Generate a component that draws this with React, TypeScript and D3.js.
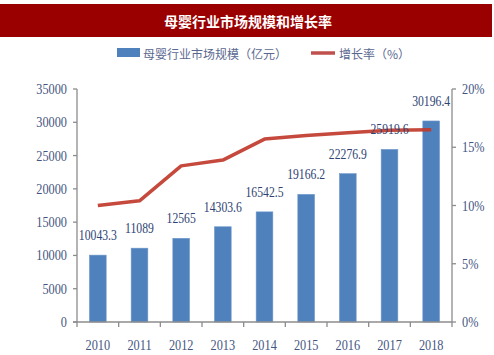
import React from "react";
import * as d3 from "d3";

const years = ["2010", "2011", "2012", "2013", "2014", "2015", "2016", "2017", "2018"];
const marketSize = [10043.3, 11089, 12565, 14303.6, 16542.5, 19166.2, 22276.9, 25919.6, 30196.4];
const marketLabels = ["10043.3", "11089", "12565", "14303.6", "16542.5", "19166.2", "22276.9", "25919.6", "30196.4"];
const growthRate = [10.0, 10.4, 13.4, 13.9, 15.7, 16.0, 16.25, 16.45, 16.5];
const leftTicks = [0, 5000, 10000, 15000, 20000, 25000, 30000, 35000];
const rightTicks = [0, 5, 10, 15, 20];

const title = "母婴行业市场规模和增长率";
const legendBar = "母婴行业市场规模（亿元）";
const legendLine = "增长率（%）";

const W = 494;
const H = 355;
const left = 77;
const right = 452;
const top = 89;
const bottom = 322;

const numFont = "'Liberation Serif', 'Times New Roman', serif";
const cjkFont = "'Noto Sans CJK SC', sans-serif";
const SX = 0.78;

export default function App() {
  const x = d3.scaleBand<string>().domain(years).range([left, right]).paddingInner(0.6).paddingOuter(0.3);
  const yL = d3.scaleLinear().domain([0, 35000]).range([bottom, top]);
  const yR = d3.scaleLinear().domain([0, 20]).range([bottom, top]);
  const step = x.step();
  const cx = (y: string) => (x(y) as number) + x.bandwidth() / 2;

  const line = d3
    .line<number>()
    .x((_, i) => cx(years[i]))
    .y((d) => yR(d));

  const axisColor = "#8C8C8C";
  const tickColor = "#44557F";
  const labelColor = "#2E4373";

  return (
    <svg width={W} height={H} style={{ position: "absolute", left: 0, top: 0, background: "#fff" }}>
      {/* title bar */}
      <rect x={0} y={4} width={492} height={33} fill="#9B0000" />
      <text x={248} y={21} fill="#fff" fontFamily={cjkFont} fontWeight={700} fontSize={14} textAnchor="middle" dominantBaseline="central">
        {title}
      </text>

      {/* legend */}
      <rect x={117} y={48} width={23} height={9} fill="#4F81BD" />
      <text x={143} y={53} fill="#5A6890" fontFamily={cjkFont} fontSize={12} dominantBaseline="central">
        {legendBar}
      </text>
      <line x1={311} x2={335} y1={53} y2={53} stroke="#C0504D" strokeWidth={3.5} />
      <text x={339} y={53} fill="#5A6890" fontFamily={cjkFont} fontSize={12} dominantBaseline="central">
        {legendLine}
      </text>

      {/* bars */}
      {marketSize.map((v, i) => (
        <rect key={years[i]} x={x(years[i])} y={yL(v)} width={x.bandwidth()} height={bottom - yL(v)} fill="#4F81BD" stroke="#6B95C9" strokeWidth={0.6} />
      ))}

      {/* growth line */}
      <path d={line(growthRate) || ""} fill="none" stroke="#C0392B" strokeWidth={3.5} strokeLinejoin="round" opacity={0.92} />

      {/* value labels */}
      {marketSize.map((v, i) => (
        <text
          key={"l" + years[i]}
          transform={`translate(${cx(years[i])},${yL(v) - 15}) scale(${SX},1)`}
          textAnchor="middle"
          fontFamily={numFont}
          fontSize={15}
          fill={labelColor}
        >
          {marketLabels[i]}
        </text>
      ))}

      {/* left axis */}
      <line x1={left} x2={left} y1={top} y2={bottom} stroke={axisColor} strokeWidth={1.3} />
      {leftTicks.map((t) => (
        <g key={"lt" + t}>
          <line x1={left - 4} x2={left} y1={yL(t)} y2={yL(t)} stroke={axisColor} strokeWidth={1.3} />
          <text
            transform={`translate(${left - 10},${yL(t) + 5}) scale(0.82,1)`}
            textAnchor="end"
            fontFamily={numFont}
            fontSize={15}
            fill={tickColor}
          >
            {t}
          </text>
        </g>
      ))}

      {/* right axis */}
      <line x1={right} x2={right} y1={top} y2={bottom} stroke={axisColor} strokeWidth={1.3} />
      {rightTicks.map((t) => (
        <g key={"rt" + t}>
          <line x1={right} x2={right + 4} y1={yR(t)} y2={yR(t)} stroke={axisColor} strokeWidth={1.3} />
          <text
            transform={`translate(${right + 10},${yR(t) + 5}) scale(0.82,1)`}
            textAnchor="start"
            fontFamily={numFont}
            fontSize={15}
            fill={tickColor}
          >
            {t + "%"}
          </text>
        </g>
      ))}

      {/* x axis */}
      <line x1={left - 4} x2={right} y1={bottom} y2={bottom} stroke={axisColor} strokeWidth={1.3} />
      {d3.range(years.length + 1).map((i) => (
        <line key={"xt" + i} x1={left + i * step} x2={left + i * step} y1={bottom} y2={bottom + 5} stroke={axisColor} strokeWidth={1.3} />
      ))}
      {years.map((y) => (
        <text
          key={"xl" + y}
          transform={`translate(${cx(y)},${350}) scale(0.82,1)`}
          textAnchor="middle"
          fontFamily={numFont}
          fontSize={15}
          fill={tickColor}
        >
          {y}
        </text>
      ))}
    </svg>
  );
}
